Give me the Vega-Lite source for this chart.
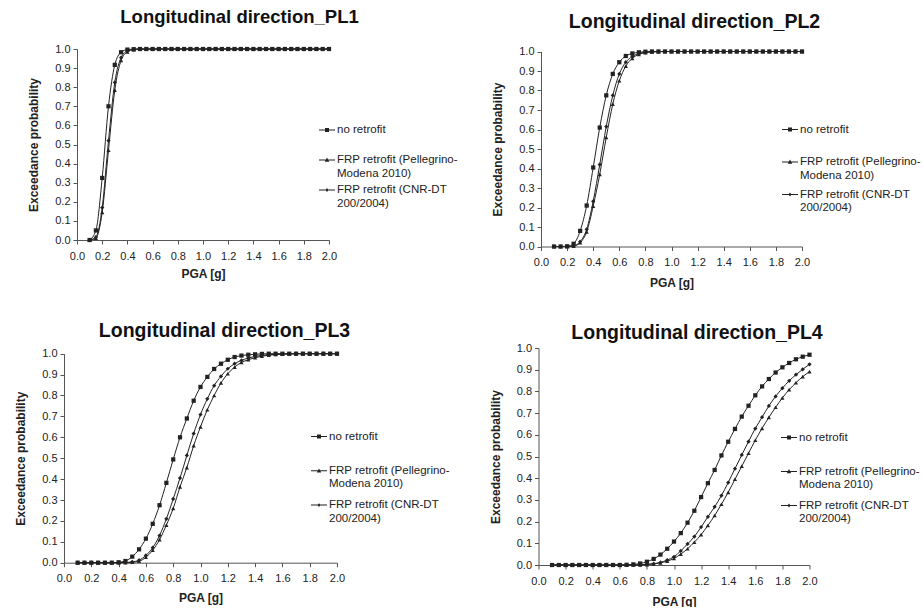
{
"$schema": "https://vega.github.io/schema/vega-lite/v6.json",
"background": "white",
"padding": {"left": 14, "top": 7, "right": 0, "bottom": 0},
"config": {
  "font": "Liberation Sans",
  "view": {"stroke": null},
  "axis": {"grid": false, "domainColor": "#555", "tickColor": "#555", "tickSize": 4, "labelFontSize": 11, "labelColor": "#222", "titleFontSize": 12, "titleFontWeight": "bold", "titleColor": "#222", "labelFlush": false, "labelOverlap": false, "format": ".1f"},
  "axisX": {"titlePadding": 7.5, "labelPadding": 6},
  "axisY": {"titlePadding": 14, "labelPadding": 3},
  "title": {"fontSize": 19.5, "fontWeight": "bold", "color": "#111", "baseline": "alphabetic", "frame": "group"},
  "legend": {"orient": "none", "title": null, "padding": 0, "symbolSize": 256, "symbolStrokeWidth": 0, "symbolFillColor": "#222", "labelFontSize": 11.5, "labelColor": "#222", "labelOffset": 2, "labelLimit": 400}
},
"datasets": {
"pl1": [
{"s":"NR","x":0.1,"p":0},{"s":"NR","x":0.15,"p":0.05},{"s":"NR","x":0.2,"p":0.325},{"s":"NR","x":0.25,"p":0.7},{"s":"NR","x":0.3,"p":0.917},{"s":"NR","x":0.35,"p":0.983},{"s":"NR","x":0.4,"p":0.997},{"s":"NR","x":0.45,"p":0.999},{"s":"NR","x":0.5,"p":1},{"s":"NR","x":0.55,"p":1},{"s":"NR","x":0.6,"p":1},{"s":"NR","x":0.65,"p":1},{"s":"NR","x":0.7,"p":1},{"s":"NR","x":0.75,"p":1},{"s":"NR","x":0.8,"p":1},{"s":"NR","x":0.85,"p":1},{"s":"NR","x":0.9,"p":1},{"s":"NR","x":0.95,"p":1},{"s":"NR","x":1.0,"p":1},{"s":"NR","x":1.05,"p":1},{"s":"NR","x":1.1,"p":1},{"s":"NR","x":1.15,"p":1},{"s":"NR","x":1.2,"p":1},{"s":"NR","x":1.25,"p":1},{"s":"NR","x":1.3,"p":1},{"s":"NR","x":1.35,"p":1},{"s":"NR","x":1.4,"p":1},{"s":"NR","x":1.45,"p":1},{"s":"NR","x":1.5,"p":1},{"s":"NR","x":1.55,"p":1},{"s":"NR","x":1.6,"p":1},{"s":"NR","x":1.65,"p":1},{"s":"NR","x":1.7,"p":1},{"s":"NR","x":1.75,"p":1},{"s":"NR","x":1.8,"p":1},{"s":"NR","x":1.85,"p":1},{"s":"NR","x":1.9,"p":1},{"s":"NR","x":1.95,"p":1},{"s":"NR","x":2.0,"p":1},
{"s":"PM","x":0.1,"p":0},{"s":"PM","x":0.15,"p":0.01},{"s":"PM","x":0.2,"p":0.145},{"s":"PM","x":0.25,"p":0.47},{"s":"PM","x":0.3,"p":0.785},{"s":"PM","x":0.35,"p":0.94},{"s":"PM","x":0.4,"p":0.985},{"s":"PM","x":0.45,"p":0.997},{"s":"PM","x":0.5,"p":0.999},{"s":"PM","x":0.55,"p":1},{"s":"PM","x":0.6,"p":1},{"s":"PM","x":0.65,"p":1},{"s":"PM","x":0.7,"p":1},{"s":"PM","x":0.75,"p":1},{"s":"PM","x":0.8,"p":1},{"s":"PM","x":0.85,"p":1},{"s":"PM","x":0.9,"p":1},{"s":"PM","x":0.95,"p":1},{"s":"PM","x":1.0,"p":1},{"s":"PM","x":1.05,"p":1},{"s":"PM","x":1.1,"p":1},{"s":"PM","x":1.15,"p":1},{"s":"PM","x":1.2,"p":1},{"s":"PM","x":1.25,"p":1},{"s":"PM","x":1.3,"p":1},{"s":"PM","x":1.35,"p":1},{"s":"PM","x":1.4,"p":1},{"s":"PM","x":1.45,"p":1},{"s":"PM","x":1.5,"p":1},{"s":"PM","x":1.55,"p":1},{"s":"PM","x":1.6,"p":1},{"s":"PM","x":1.65,"p":1},{"s":"PM","x":1.7,"p":1},{"s":"PM","x":1.75,"p":1},{"s":"PM","x":1.8,"p":1},{"s":"PM","x":1.85,"p":1},{"s":"PM","x":1.9,"p":1},{"s":"PM","x":1.95,"p":1},{"s":"PM","x":2.0,"p":1},
{"s":"CNR","x":0.1,"p":0},{"s":"CNR","x":0.15,"p":0.015},{"s":"CNR","x":0.2,"p":0.17},{"s":"CNR","x":0.25,"p":0.52},{"s":"CNR","x":0.3,"p":0.825},{"s":"CNR","x":0.35,"p":0.955},{"s":"CNR","x":0.4,"p":0.99},{"s":"CNR","x":0.45,"p":0.998},{"s":"CNR","x":0.5,"p":1},{"s":"CNR","x":0.55,"p":1},{"s":"CNR","x":0.6,"p":1},{"s":"CNR","x":0.65,"p":1},{"s":"CNR","x":0.7,"p":1},{"s":"CNR","x":0.75,"p":1},{"s":"CNR","x":0.8,"p":1},{"s":"CNR","x":0.85,"p":1},{"s":"CNR","x":0.9,"p":1},{"s":"CNR","x":0.95,"p":1},{"s":"CNR","x":1.0,"p":1},{"s":"CNR","x":1.05,"p":1},{"s":"CNR","x":1.1,"p":1},{"s":"CNR","x":1.15,"p":1},{"s":"CNR","x":1.2,"p":1},{"s":"CNR","x":1.25,"p":1},{"s":"CNR","x":1.3,"p":1},{"s":"CNR","x":1.35,"p":1},{"s":"CNR","x":1.4,"p":1},{"s":"CNR","x":1.45,"p":1},{"s":"CNR","x":1.5,"p":1},{"s":"CNR","x":1.55,"p":1},{"s":"CNR","x":1.6,"p":1},{"s":"CNR","x":1.65,"p":1},{"s":"CNR","x":1.7,"p":1},{"s":"CNR","x":1.75,"p":1},{"s":"CNR","x":1.8,"p":1},{"s":"CNR","x":1.85,"p":1},{"s":"CNR","x":1.9,"p":1},{"s":"CNR","x":1.95,"p":1},{"s":"CNR","x":2.0,"p":1}
],
"pl2": [
{"s":"NR","x":0.1,"p":0},{"s":"NR","x":0.15,"p":0},{"s":"NR","x":0.2,"p":0.001},{"s":"NR","x":0.25,"p":0.014},{"s":"NR","x":0.3,"p":0.08},{"s":"NR","x":0.35,"p":0.21},{"s":"NR","x":0.4,"p":0.405},{"s":"NR","x":0.45,"p":0.61},{"s":"NR","x":0.5,"p":0.775},{"s":"NR","x":0.55,"p":0.885},{"s":"NR","x":0.6,"p":0.945},{"s":"NR","x":0.65,"p":0.977},{"s":"NR","x":0.7,"p":0.99},{"s":"NR","x":0.75,"p":0.996},{"s":"NR","x":0.8,"p":0.999},{"s":"NR","x":0.85,"p":1},{"s":"NR","x":0.9,"p":1},{"s":"NR","x":0.95,"p":1},{"s":"NR","x":1.0,"p":1},{"s":"NR","x":1.05,"p":1},{"s":"NR","x":1.1,"p":1},{"s":"NR","x":1.15,"p":1},{"s":"NR","x":1.2,"p":1},{"s":"NR","x":1.25,"p":1},{"s":"NR","x":1.3,"p":1},{"s":"NR","x":1.35,"p":1},{"s":"NR","x":1.4,"p":1},{"s":"NR","x":1.45,"p":1},{"s":"NR","x":1.5,"p":1},{"s":"NR","x":1.55,"p":1},{"s":"NR","x":1.6,"p":1},{"s":"NR","x":1.65,"p":1},{"s":"NR","x":1.7,"p":1},{"s":"NR","x":1.75,"p":1},{"s":"NR","x":1.8,"p":1},{"s":"NR","x":1.85,"p":1},{"s":"NR","x":1.9,"p":1},{"s":"NR","x":1.95,"p":1},{"s":"NR","x":2.0,"p":1},
{"s":"PM","x":0.1,"p":0},{"s":"PM","x":0.15,"p":0},{"s":"PM","x":0.2,"p":0},{"s":"PM","x":0.25,"p":0.002},{"s":"PM","x":0.3,"p":0.02},{"s":"PM","x":0.35,"p":0.075},{"s":"PM","x":0.4,"p":0.207},{"s":"PM","x":0.45,"p":0.37},{"s":"PM","x":0.5,"p":0.56},{"s":"PM","x":0.55,"p":0.73},{"s":"PM","x":0.6,"p":0.85},{"s":"PM","x":0.65,"p":0.925},{"s":"PM","x":0.7,"p":0.965},{"s":"PM","x":0.75,"p":0.985},{"s":"PM","x":0.8,"p":0.994},{"s":"PM","x":0.85,"p":0.998},{"s":"PM","x":0.9,"p":0.999},{"s":"PM","x":0.95,"p":1},{"s":"PM","x":1.0,"p":1},{"s":"PM","x":1.05,"p":1},{"s":"PM","x":1.1,"p":1},{"s":"PM","x":1.15,"p":1},{"s":"PM","x":1.2,"p":1},{"s":"PM","x":1.25,"p":1},{"s":"PM","x":1.3,"p":1},{"s":"PM","x":1.35,"p":1},{"s":"PM","x":1.4,"p":1},{"s":"PM","x":1.45,"p":1},{"s":"PM","x":1.5,"p":1},{"s":"PM","x":1.55,"p":1},{"s":"PM","x":1.6,"p":1},{"s":"PM","x":1.65,"p":1},{"s":"PM","x":1.7,"p":1},{"s":"PM","x":1.75,"p":1},{"s":"PM","x":1.8,"p":1},{"s":"PM","x":1.85,"p":1},{"s":"PM","x":1.9,"p":1},{"s":"PM","x":1.95,"p":1},{"s":"PM","x":2.0,"p":1},
{"s":"CNR","x":0.1,"p":0},{"s":"CNR","x":0.15,"p":0},{"s":"CNR","x":0.2,"p":0},{"s":"CNR","x":0.25,"p":0.003},{"s":"CNR","x":0.3,"p":0.025},{"s":"CNR","x":0.35,"p":0.088},{"s":"CNR","x":0.4,"p":0.232},{"s":"CNR","x":0.45,"p":0.42},{"s":"CNR","x":0.5,"p":0.615},{"s":"CNR","x":0.55,"p":0.775},{"s":"CNR","x":0.6,"p":0.885},{"s":"CNR","x":0.65,"p":0.945},{"s":"CNR","x":0.7,"p":0.975},{"s":"CNR","x":0.75,"p":0.99},{"s":"CNR","x":0.8,"p":0.996},{"s":"CNR","x":0.85,"p":0.999},{"s":"CNR","x":0.9,"p":1},{"s":"CNR","x":0.95,"p":1},{"s":"CNR","x":1.0,"p":1},{"s":"CNR","x":1.05,"p":1},{"s":"CNR","x":1.1,"p":1},{"s":"CNR","x":1.15,"p":1},{"s":"CNR","x":1.2,"p":1},{"s":"CNR","x":1.25,"p":1},{"s":"CNR","x":1.3,"p":1},{"s":"CNR","x":1.35,"p":1},{"s":"CNR","x":1.4,"p":1},{"s":"CNR","x":1.45,"p":1},{"s":"CNR","x":1.5,"p":1},{"s":"CNR","x":1.55,"p":1},{"s":"CNR","x":1.6,"p":1},{"s":"CNR","x":1.65,"p":1},{"s":"CNR","x":1.7,"p":1},{"s":"CNR","x":1.75,"p":1},{"s":"CNR","x":1.8,"p":1},{"s":"CNR","x":1.85,"p":1},{"s":"CNR","x":1.9,"p":1},{"s":"CNR","x":1.95,"p":1},{"s":"CNR","x":2.0,"p":1}
],
"pl3": [
{"s":"NR","x":0.1,"p":0},{"s":"NR","x":0.15,"p":0},{"s":"NR","x":0.2,"p":0},{"s":"NR","x":0.25,"p":0},{"s":"NR","x":0.3,"p":0},{"s":"NR","x":0.35,"p":0},{"s":"NR","x":0.4,"p":0.002},{"s":"NR","x":0.45,"p":0.008},{"s":"NR","x":0.5,"p":0.029},{"s":"NR","x":0.55,"p":0.064},{"s":"NR","x":0.6,"p":0.115},{"s":"NR","x":0.65,"p":0.186},{"s":"NR","x":0.7,"p":0.275},{"s":"NR","x":0.75,"p":0.382},{"s":"NR","x":0.8,"p":0.494},{"s":"NR","x":0.85,"p":0.6},{"s":"NR","x":0.9,"p":0.69},{"s":"NR","x":0.95,"p":0.775},{"s":"NR","x":1.0,"p":0.841},{"s":"NR","x":1.05,"p":0.889},{"s":"NR","x":1.1,"p":0.927},{"s":"NR","x":1.15,"p":0.952},{"s":"NR","x":1.2,"p":0.971},{"s":"NR","x":1.25,"p":0.984},{"s":"NR","x":1.3,"p":0.991},{"s":"NR","x":1.35,"p":0.995},{"s":"NR","x":1.4,"p":0.997},{"s":"NR","x":1.45,"p":0.999},{"s":"NR","x":1.5,"p":1},{"s":"NR","x":1.55,"p":1},{"s":"NR","x":1.6,"p":1},{"s":"NR","x":1.65,"p":1},{"s":"NR","x":1.7,"p":1},{"s":"NR","x":1.75,"p":1},{"s":"NR","x":1.8,"p":1},{"s":"NR","x":1.85,"p":1},{"s":"NR","x":1.9,"p":1},{"s":"NR","x":1.95,"p":1},{"s":"NR","x":2.0,"p":1},
{"s":"PM","x":0.1,"p":0},{"s":"PM","x":0.15,"p":0},{"s":"PM","x":0.2,"p":0},{"s":"PM","x":0.25,"p":0},{"s":"PM","x":0.3,"p":0},{"s":"PM","x":0.35,"p":0},{"s":"PM","x":0.4,"p":0},{"s":"PM","x":0.45,"p":0},{"s":"PM","x":0.5,"p":0.002},{"s":"PM","x":0.55,"p":0.007},{"s":"PM","x":0.6,"p":0.026},{"s":"PM","x":0.65,"p":0.06},{"s":"PM","x":0.7,"p":0.11},{"s":"PM","x":0.75,"p":0.18},{"s":"PM","x":0.8,"p":0.26},{"s":"PM","x":0.85,"p":0.363},{"s":"PM","x":0.9,"p":0.455},{"s":"PM","x":0.95,"p":0.56},{"s":"PM","x":1.0,"p":0.65},{"s":"PM","x":1.05,"p":0.732},{"s":"PM","x":1.1,"p":0.8},{"s":"PM","x":1.15,"p":0.86},{"s":"PM","x":1.2,"p":0.904},{"s":"PM","x":1.25,"p":0.936},{"s":"PM","x":1.3,"p":0.958},{"s":"PM","x":1.35,"p":0.971},{"s":"PM","x":1.4,"p":0.981},{"s":"PM","x":1.45,"p":0.988},{"s":"PM","x":1.5,"p":0.993},{"s":"PM","x":1.55,"p":0.996},{"s":"PM","x":1.6,"p":0.998},{"s":"PM","x":1.65,"p":0.999},{"s":"PM","x":1.7,"p":1},{"s":"PM","x":1.75,"p":1},{"s":"PM","x":1.8,"p":1},{"s":"PM","x":1.85,"p":1},{"s":"PM","x":1.9,"p":1},{"s":"PM","x":1.95,"p":1},{"s":"PM","x":2.0,"p":1},
{"s":"CNR","x":0.1,"p":0},{"s":"CNR","x":0.15,"p":0},{"s":"CNR","x":0.2,"p":0},{"s":"CNR","x":0.25,"p":0},{"s":"CNR","x":0.3,"p":0},{"s":"CNR","x":0.35,"p":0},{"s":"CNR","x":0.4,"p":0},{"s":"CNR","x":0.45,"p":0.001},{"s":"CNR","x":0.5,"p":0.004},{"s":"CNR","x":0.55,"p":0.012},{"s":"CNR","x":0.6,"p":0.035},{"s":"CNR","x":0.65,"p":0.072},{"s":"CNR","x":0.7,"p":0.13},{"s":"CNR","x":0.75,"p":0.21},{"s":"CNR","x":0.8,"p":0.305},{"s":"CNR","x":0.85,"p":0.405},{"s":"CNR","x":0.9,"p":0.513},{"s":"CNR","x":0.95,"p":0.618},{"s":"CNR","x":1.0,"p":0.709},{"s":"CNR","x":1.05,"p":0.784},{"s":"CNR","x":1.1,"p":0.847},{"s":"CNR","x":1.15,"p":0.892},{"s":"CNR","x":1.2,"p":0.928},{"s":"CNR","x":1.25,"p":0.952},{"s":"CNR","x":1.3,"p":0.968},{"s":"CNR","x":1.35,"p":0.979},{"s":"CNR","x":1.4,"p":0.987},{"s":"CNR","x":1.45,"p":0.992},{"s":"CNR","x":1.5,"p":0.995},{"s":"CNR","x":1.55,"p":0.997},{"s":"CNR","x":1.6,"p":0.998},{"s":"CNR","x":1.65,"p":0.999},{"s":"CNR","x":1.7,"p":1},{"s":"CNR","x":1.75,"p":1},{"s":"CNR","x":1.8,"p":1},{"s":"CNR","x":1.85,"p":1},{"s":"CNR","x":1.9,"p":1},{"s":"CNR","x":1.95,"p":1},{"s":"CNR","x":2.0,"p":1}
],
"pl4": [
{"s":"NR","x":0.1,"p":0},{"s":"NR","x":0.15,"p":0},{"s":"NR","x":0.2,"p":0},{"s":"NR","x":0.25,"p":0},{"s":"NR","x":0.3,"p":0},{"s":"NR","x":0.35,"p":0},{"s":"NR","x":0.4,"p":0},{"s":"NR","x":0.45,"p":0},{"s":"NR","x":0.5,"p":0},{"s":"NR","x":0.55,"p":0},{"s":"NR","x":0.6,"p":0},{"s":"NR","x":0.65,"p":0.001},{"s":"NR","x":0.7,"p":0.003},{"s":"NR","x":0.75,"p":0.007},{"s":"NR","x":0.8,"p":0.015},{"s":"NR","x":0.85,"p":0.028},{"s":"NR","x":0.9,"p":0.048},{"s":"NR","x":0.95,"p":0.075},{"s":"NR","x":1.0,"p":0.108},{"s":"NR","x":1.05,"p":0.147},{"s":"NR","x":1.1,"p":0.195},{"s":"NR","x":1.15,"p":0.25},{"s":"NR","x":1.2,"p":0.313},{"s":"NR","x":1.25,"p":0.377},{"s":"NR","x":1.3,"p":0.438},{"s":"NR","x":1.35,"p":0.505},{"s":"NR","x":1.4,"p":0.568},{"s":"NR","x":1.45,"p":0.627},{"s":"NR","x":1.5,"p":0.684},{"s":"NR","x":1.55,"p":0.734},{"s":"NR","x":1.6,"p":0.782},{"s":"NR","x":1.65,"p":0.823},{"s":"NR","x":1.7,"p":0.857},{"s":"NR","x":1.75,"p":0.887},{"s":"NR","x":1.8,"p":0.911},{"s":"NR","x":1.85,"p":0.931},{"s":"NR","x":1.9,"p":0.948},{"s":"NR","x":1.95,"p":0.96},{"s":"NR","x":2.0,"p":0.969},
{"s":"PM","x":0.1,"p":0},{"s":"PM","x":0.15,"p":0},{"s":"PM","x":0.2,"p":0},{"s":"PM","x":0.25,"p":0},{"s":"PM","x":0.3,"p":0},{"s":"PM","x":0.35,"p":0},{"s":"PM","x":0.4,"p":0},{"s":"PM","x":0.45,"p":0},{"s":"PM","x":0.5,"p":0},{"s":"PM","x":0.55,"p":0},{"s":"PM","x":0.6,"p":0},{"s":"PM","x":0.65,"p":0},{"s":"PM","x":0.7,"p":0},{"s":"PM","x":0.75,"p":0},{"s":"PM","x":0.8,"p":0.002},{"s":"PM","x":0.85,"p":0.005},{"s":"PM","x":0.9,"p":0.01},{"s":"PM","x":0.95,"p":0.018},{"s":"PM","x":1.0,"p":0.03},{"s":"PM","x":1.05,"p":0.05},{"s":"PM","x":1.1,"p":0.075},{"s":"PM","x":1.15,"p":0.105},{"s":"PM","x":1.2,"p":0.14},{"s":"PM","x":1.25,"p":0.182},{"s":"PM","x":1.3,"p":0.228},{"s":"PM","x":1.35,"p":0.28},{"s":"PM","x":1.4,"p":0.335},{"s":"PM","x":1.45,"p":0.395},{"s":"PM","x":1.5,"p":0.455},{"s":"PM","x":1.55,"p":0.515},{"s":"PM","x":1.6,"p":0.575},{"s":"PM","x":1.65,"p":0.63},{"s":"PM","x":1.7,"p":0.68},{"s":"PM","x":1.75,"p":0.727},{"s":"PM","x":1.8,"p":0.77},{"s":"PM","x":1.85,"p":0.808},{"s":"PM","x":1.9,"p":0.84},{"s":"PM","x":1.95,"p":0.868},{"s":"PM","x":2.0,"p":0.891},
{"s":"CNR","x":0.1,"p":0},{"s":"CNR","x":0.15,"p":0},{"s":"CNR","x":0.2,"p":0},{"s":"CNR","x":0.25,"p":0},{"s":"CNR","x":0.3,"p":0},{"s":"CNR","x":0.35,"p":0},{"s":"CNR","x":0.4,"p":0},{"s":"CNR","x":0.45,"p":0},{"s":"CNR","x":0.5,"p":0},{"s":"CNR","x":0.55,"p":0},{"s":"CNR","x":0.6,"p":0},{"s":"CNR","x":0.65,"p":0},{"s":"CNR","x":0.7,"p":0},{"s":"CNR","x":0.75,"p":0.001},{"s":"CNR","x":0.8,"p":0.003},{"s":"CNR","x":0.85,"p":0.006},{"s":"CNR","x":0.9,"p":0.012},{"s":"CNR","x":0.95,"p":0.023},{"s":"CNR","x":1.0,"p":0.038},{"s":"CNR","x":1.05,"p":0.065},{"s":"CNR","x":1.1,"p":0.097},{"s":"CNR","x":1.15,"p":0.131},{"s":"CNR","x":1.2,"p":0.175},{"s":"CNR","x":1.25,"p":0.222},{"s":"CNR","x":1.3,"p":0.268},{"s":"CNR","x":1.35,"p":0.32},{"s":"CNR","x":1.4,"p":0.38},{"s":"CNR","x":1.45,"p":0.444},{"s":"CNR","x":1.5,"p":0.507},{"s":"CNR","x":1.55,"p":0.569},{"s":"CNR","x":1.6,"p":0.629},{"s":"CNR","x":1.65,"p":0.681},{"s":"CNR","x":1.7,"p":0.733},{"s":"CNR","x":1.75,"p":0.777},{"s":"CNR","x":1.8,"p":0.815},{"s":"CNR","x":1.85,"p":0.849},{"s":"CNR","x":1.9,"p":0.877},{"s":"CNR","x":1.95,"p":0.902},{"s":"CNR","x":2.0,"p":0.925}
]
},
"vconcat": [
 {"hconcat": [
  {"data": {"name": "pl1"}, "width": 265, "height": 191,
   "title": {"text": "Longitudinal direction_PL1", "fontSize": 18.5, "dx": 43, "offset": 17},
   "encoding": {
     "x": {"field": "x", "type": "quantitative", "scale": {"domain": [0, 2], "nice": false, "range": [13, 265]}, "axis": {"title": "PGA [g]", "values": [0,0.2,0.4,0.6,0.8,1,1.2,1.4,1.6,1.8,2]}},
     "y": {"field": "p", "type": "quantitative", "scale": {"domain": [0, 1], "nice": false}, "axis": {"title": "Exceedance probability", "offset": -13, "values": [0,0.1,0.2,0.3,0.4,0.5,0.6,0.7,0.8,0.9,1]}}
   },
   "layer": [
     {"mark": {"type": "line", "interpolate": "monotone", "color": "#222", "strokeWidth": 1}, "encoding": {"detail": {"field": "s"}}},
     {"mark": {"type": "point", "filled": true, "color": "#222", "opacity": 1, "size": 18},
      "encoding": {"shape": {"field": "s", "type": "nominal", "scale": {"domain": ["NR", "PM", "CNR"], "range": ["square", "triangle-up", "diamond"]}, "legend": null}}},
     {"transform": [{"filter": "false"}],
      "mark": {"type": "point", "filled": true, "color": "#222", "opacity": 1},
      "encoding": {"shape": {"field": "s", "type": "nominal", "scale": {"domain": ["NR", "PM", "CNR"], "range": ["M-1,-0.065H1V0.065H-1ZM-0.25,-0.25H0.25V0.25H-0.25Z", "M-1,-0.065H1V0.065H-1ZM0,-0.3L0.28,0.22H-0.28Z", "M-1,-0.065H1V0.065H-1ZM0,-0.24L0.18,0L0,0.24L-0.18,0Z"]},
        "legend": {"legendX": 255, "legendY": 73, "rowPadding": 3,
          "labelExpr": "datum.value == 'NR' ? ['no retrofit', ''] : datum.value == 'PM' ? ['FRP retrofit (Pellegrino-', 'Modena 2010)'] : ['FRP retrofit (CNR-DT', '200/2004)']"}}}}
   ],
   "resolve": {"scale": {"shape": "independent"}}},
  {"data": {"name": "pl2"}, "width": 261, "height": 197.5,
   "title": {"text": "Longitudinal direction_PL2", "dx": 23, "offset": 13.5},
   "encoding": {
     "x": {"field": "x", "type": "quantitative", "scale": {"domain": [0, 2], "nice": false}, "axis": {"title": "PGA [g]", "titlePadding": 10, "values": [0,0.2,0.4,0.6,0.8,1,1.2,1.4,1.6,1.8,2]}},
     "y": {"field": "p", "type": "quantitative", "scale": {"domain": [0, 1], "nice": false, "range": [197.5, 2.5]}, "axis": {"title": "Exceedance probability", "values": [0,0.1,0.2,0.3,0.4,0.5,0.6,0.7,0.8,0.9,1]}}
   },
   "layer": [
     {"mark": {"type": "line", "interpolate": "monotone", "color": "#222", "strokeWidth": 1}, "encoding": {"detail": {"field": "s"}}},
     {"mark": {"type": "point", "filled": true, "color": "#222", "opacity": 1, "size": 18},
      "encoding": {"shape": {"field": "s", "type": "nominal", "scale": {"domain": ["NR", "PM", "CNR"], "range": ["square", "triangle-up", "diamond"]}, "legend": null}}},
     {"transform": [{"filter": "false"}],
      "mark": {"type": "point", "filled": true, "color": "#222", "opacity": 1},
      "encoding": {"shape": {"field": "s", "type": "nominal", "scale": {"domain": ["NR", "PM", "CNR"], "range": ["M-1,-0.065H1V0.065H-1ZM-0.25,-0.25H0.25V0.25H-0.25Z", "M-1,-0.065H1V0.065H-1ZM0,-0.3L0.28,0.22H-0.28Z", "M-1,-0.065H1V0.065H-1ZM0,-0.24L0.18,0L0,0.24L-0.18,0Z"]},
        "legend": {"legendX": 241, "legendY": 72.5, "rowPadding": 5.5,
          "labelExpr": "datum.value == 'NR' ? ['no retrofit', ''] : datum.value == 'PM' ? ['FRP retrofit (Pellegrino-', 'Modena 2010)'] : ['FRP retrofit (CNR-DT', '200/2004)']"}}}}
   ],
   "resolve": {"scale": {"shape": "independent"}}}
 ], "spacing": 33, "resolve": {"scale": {"shape": "independent"}, "legend": {"shape": "independent"}}},
 {"hconcat": [
  {"data": {"name": "pl3"}, "width": 273, "height": 214.7,
   "title": {"text": "Longitudinal direction_PL3", "dx": 24, "offset": 6.5},
   "encoding": {
     "x": {"field": "x", "type": "quantitative", "scale": {"domain": [0, 2], "nice": false}, "axis": {"title": "PGA [g]", "titlePadding": 9, "values": [0,0.2,0.4,0.6,0.8,1,1.2,1.4,1.6,1.8,2]}},
     "y": {"field": "p", "type": "quantitative", "scale": {"domain": [0, 1], "nice": false, "range": [214.7, 5.7]}, "axis": {"title": "Exceedance probability", "values": [0,0.1,0.2,0.3,0.4,0.5,0.6,0.7,0.8,0.9,1]}}
   },
   "layer": [
     {"mark": {"type": "line", "interpolate": "monotone", "color": "#222", "strokeWidth": 1}, "encoding": {"detail": {"field": "s"}}},
     {"mark": {"type": "point", "filled": true, "color": "#222", "opacity": 1, "size": 18},
      "encoding": {"shape": {"field": "s", "type": "nominal", "scale": {"domain": ["NR", "PM", "CNR"], "range": ["square", "triangle-up", "diamond"]}, "legend": null}}},
     {"transform": [{"filter": "false"}],
      "mark": {"type": "point", "filled": true, "color": "#222", "opacity": 1},
      "encoding": {"shape": {"field": "s", "type": "nominal", "scale": {"domain": ["NR", "PM", "CNR"], "range": ["M-1,-0.065H1V0.065H-1ZM-0.25,-0.25H0.25V0.25H-0.25Z", "M-1,-0.065H1V0.065H-1ZM0,-0.3L0.28,0.22H-0.28Z", "M-1,-0.065H1V0.065H-1ZM0,-0.24L0.18,0L0,0.24L-0.18,0Z"]},
        "legend": {"legendX": 247, "legendY": 80.5, "rowPadding": 7.3,
          "labelExpr": "datum.value == 'NR' ? ['no retrofit', ''] : datum.value == 'PM' ? ['FRP retrofit (Pellegrino-', 'Modena 2010)'] : ['FRP retrofit (CNR-DT', '200/2004)']"}}}}
   ],
   "resolve": {"scale": {"shape": "independent"}}},
  {"data": {"name": "pl4"}, "width": 271, "height": 217,
   "title": {"text": "Longitudinal direction_PL4", "dx": 23, "offset": -1},
   "encoding": {
     "x": {"field": "x", "type": "quantitative", "scale": {"domain": [0, 2], "nice": false}, "axis": {"title": "PGA [g]", "titlePadding": 10, "values": [0,0.2,0.4,0.6,0.8,1,1.2,1.4,1.6,1.8,2]}},
     "y": {"field": "p", "type": "quantitative", "scale": {"domain": [0, 1], "nice": false}, "axis": {"title": "Exceedance probability", "values": [0,0.1,0.2,0.3,0.4,0.5,0.6,0.7,0.8,0.9,1]}}
   },
   "layer": [
     {"mark": {"type": "line", "interpolate": "monotone", "color": "#222", "strokeWidth": 1}, "encoding": {"detail": {"field": "s"}}},
     {"mark": {"type": "point", "filled": true, "color": "#222", "opacity": 1, "size": 18},
      "encoding": {"shape": {"field": "s", "type": "nominal", "scale": {"domain": ["NR", "PM", "CNR"], "range": ["square", "triangle-up", "diamond"]}, "legend": null}}},
     {"transform": [{"filter": "false"}],
      "mark": {"type": "point", "filled": true, "color": "#222", "opacity": 1},
      "encoding": {"shape": {"field": "s", "type": "nominal", "scale": {"domain": ["NR", "PM", "CNR"], "range": ["M-1,-0.065H1V0.065H-1ZM-0.25,-0.25H0.25V0.25H-0.25Z", "M-1,-0.065H1V0.065H-1ZM0,-0.3L0.28,0.22H-0.28Z", "M-1,-0.065H1V0.065H-1ZM0,-0.24L0.18,0L0,0.24L-0.18,0Z"]},
        "legend": {"legendX": 242.5, "legendY": 81.5, "rowPadding": 7,
          "labelExpr": "datum.value == 'NR' ? ['no retrofit', ''] : datum.value == 'PM' ? ['FRP retrofit (Pellegrino-', 'Modena 2010)'] : ['FRP retrofit (CNR-DT', '200/2004)']"}}}}
   ],
   "resolve": {"scale": {"shape": "independent"}}}
 ], "spacing": 38.5, "resolve": {"scale": {"shape": "independent"}, "legend": {"shape": "independent"}}}
],
"spacing": 31,
"resolve": {"scale": {"shape": "independent"}, "legend": {"shape": "independent"}}
}
